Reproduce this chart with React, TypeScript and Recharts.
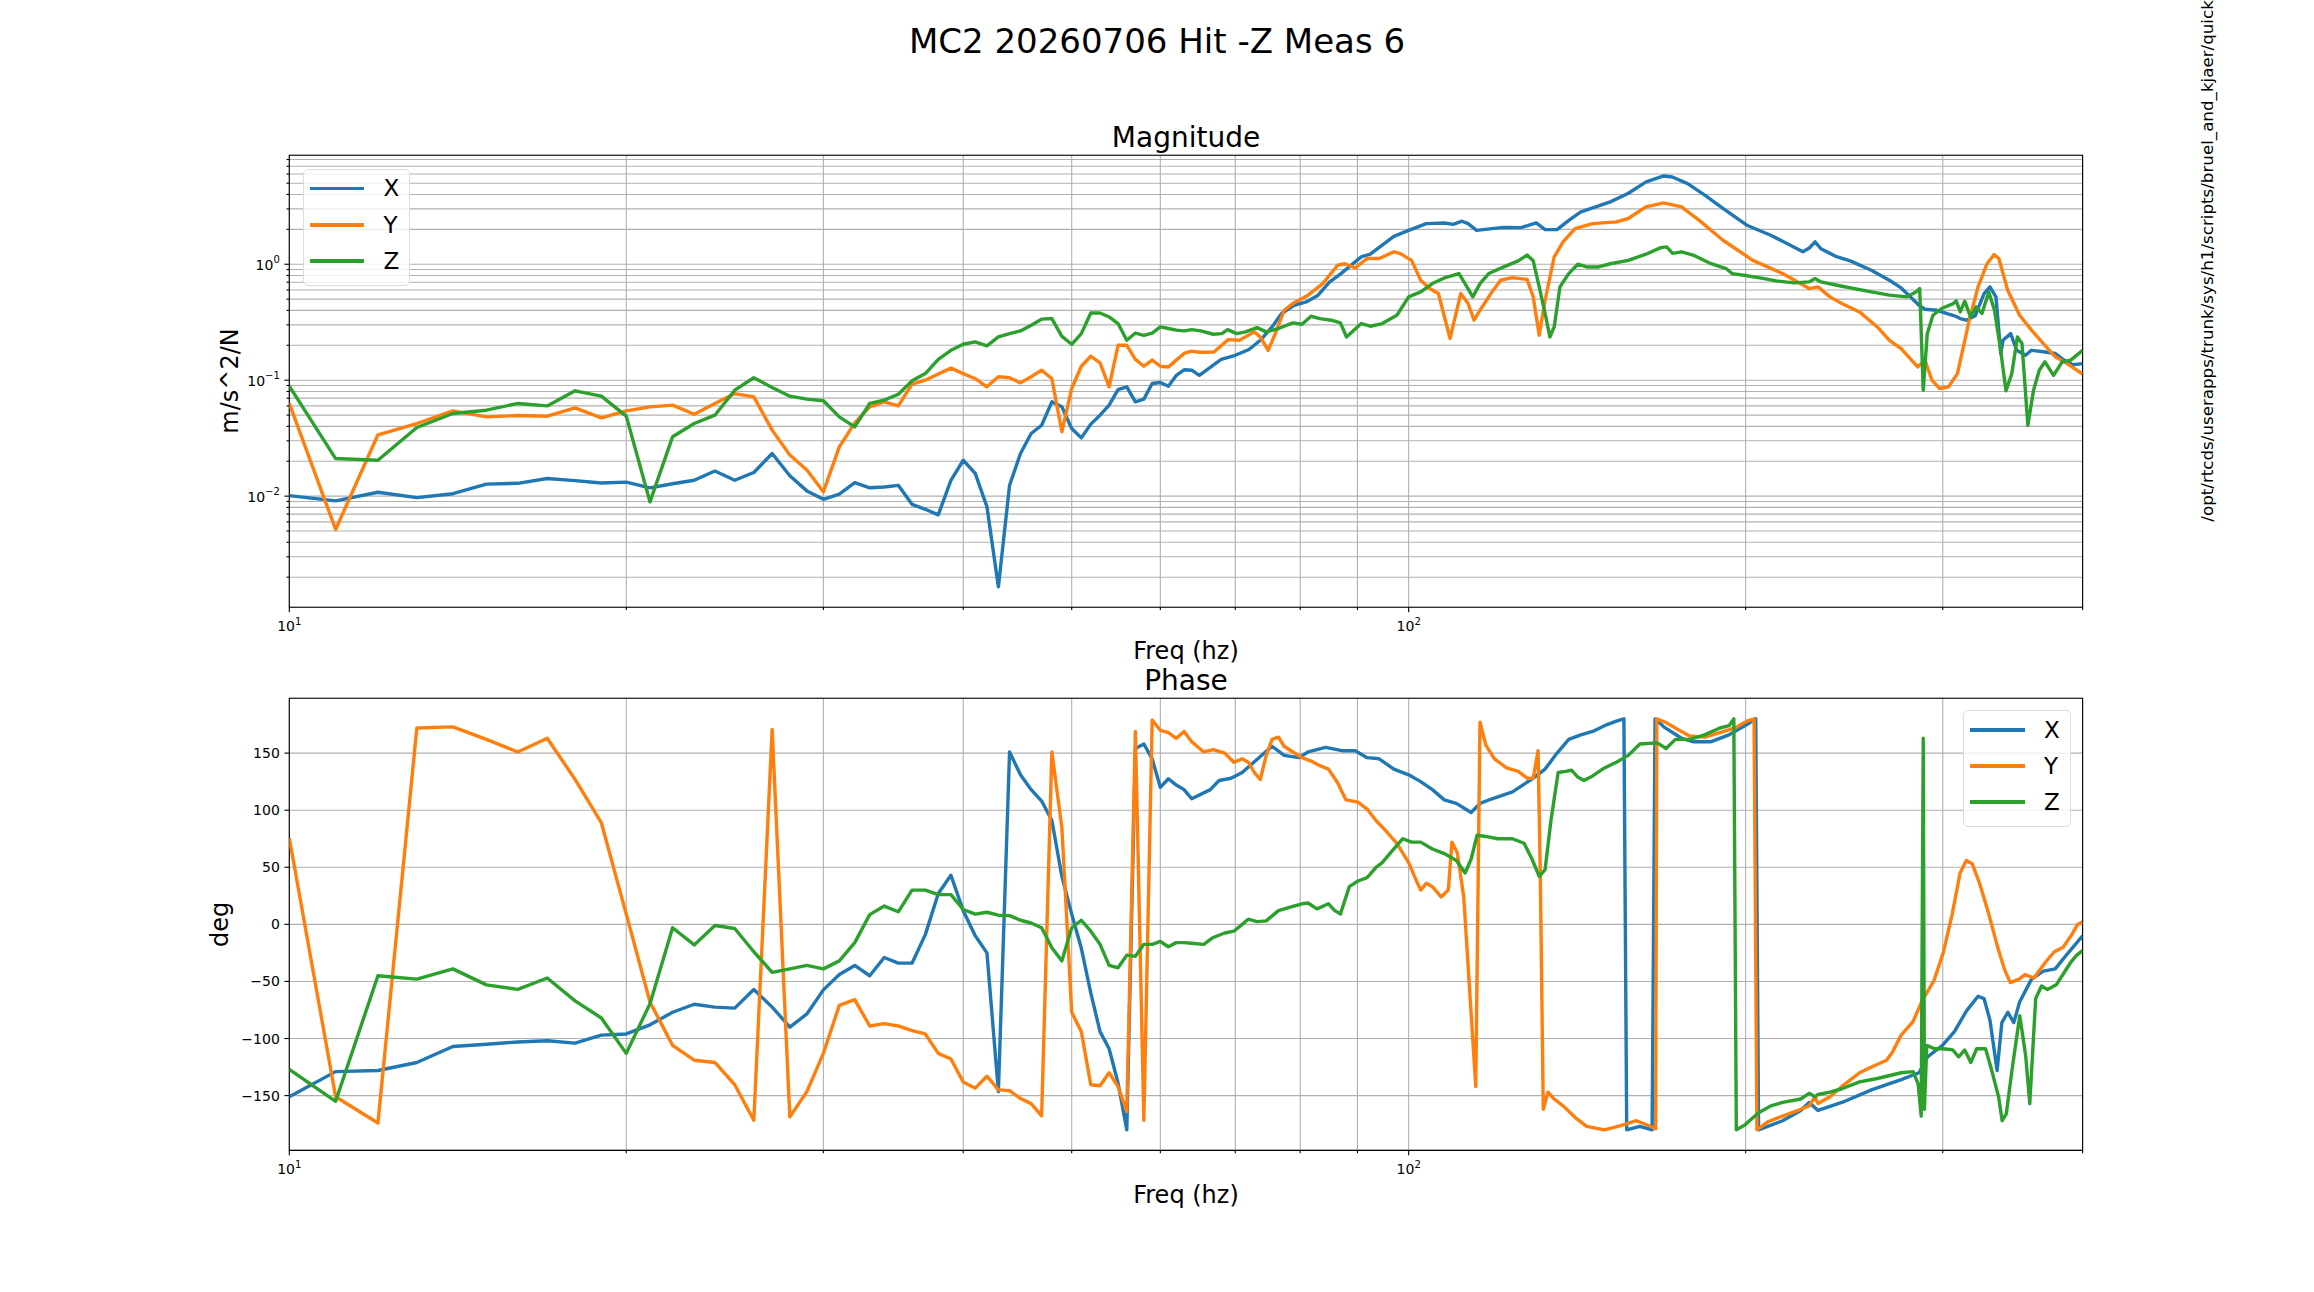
import { LineChart, Line, XAxis, YAxis, CartesianGrid, ReferenceArea } from "recharts";

const FONT = "DejaVu Sans, sans-serif";

const FREQ_MIN = 10;
const FREQ_MAX = 400;
const FREQ_TICKS = [10, 20, 30, 40, 50, 60, 70, 80, 90, 100, 200, 300, 400];

const MAG_MIN = 0.0011;
const MAG_MAX = 8.7;
const MAG_TICKS = [
  0.002, 0.003, 0.004, 0.005, 0.006, 0.007, 0.008, 0.009,
  0.01, 0.02, 0.03, 0.04, 0.05, 0.06, 0.07, 0.08, 0.09,
  0.1, 0.2, 0.3, 0.4, 0.5, 0.6, 0.7, 0.8, 0.9,
  1, 2, 3, 4, 5, 6, 7, 8,
];

const PHASE_MIN = -198;
const PHASE_MAX = 198;
const PHASE_TICKS = [-150, -100, -50, 0, 50, 100, 150];

// [freq hz, m/s^2/N]
const MAG_X: [number, number][] = [
  [10, 0.0101], [11, 0.0091], [12, 0.0108], [13, 0.0097], [14, 0.0105], [15, 0.0127], [16, 0.0129],
  [17, 0.0142], [18, 0.0136], [19, 0.013], [20, 0.0132], [21, 0.0118], [22, 0.0128], [23, 0.0137],
  [24, 0.0165], [25, 0.0137], [26, 0.016], [27, 0.0233], [28, 0.015], [29, 0.0111], [30, 0.0094],
  [31, 0.0104], [32, 0.0131], [33, 0.0118], [34, 0.012], [35, 0.0124], [36, 0.0085], [37, 0.0077],
  [38, 0.0069], [39, 0.0137], [40, 0.0204], [41, 0.0157], [42, 0.0081], [43, 0.00165], [44, 0.0124],
  [45, 0.0233], [46, 0.0347], [47, 0.0409], [48, 0.065], [49, 0.0589], [50, 0.0383], [51, 0.0318],
  [52, 0.0418], [53, 0.0499], [54, 0.0609], [55, 0.083], [56, 0.0877], [57, 0.065], [58, 0.0686],
  [59, 0.0936], [60, 0.0955], [61, 0.0888], [62, 0.11], [63, 0.123], [64, 0.122], [65, 0.11],
  [68, 0.151], [70, 0.164], [72, 0.184], [73.7, 0.221], [75.5, 0.288], [77, 0.376], [79, 0.443],
  [81, 0.473], [83, 0.541], [85, 0.705], [87, 0.831], [90.7, 1.157], [92.4, 1.22], [94.7, 1.46],
  [97, 1.74], [100, 1.96], [103.7, 2.24], [107.6, 2.27], [109.6, 2.21], [111.6, 2.35], [113, 2.24],
  [115, 1.96], [118.7, 2.03], [121.6, 2.08], [126, 2.07], [130, 2.27], [132.4, 1.99], [135.7, 1.99],
  [139, 2.39], [142.5, 2.83], [147.8, 3.18], [151.4, 3.45], [157, 4.07], [163, 5.13], [169, 5.77],
  [172, 5.66], [177.5, 4.96], [184, 3.93], [191, 3.02], [200.5, 2.17], [210.6, 1.78], [225, 1.28],
  [228, 1.38], [230.7, 1.56], [233.5, 1.36], [240.7, 1.17], [248, 1.07], [259, 0.888], [268.8, 0.728],
  [275.4, 0.625], [285.7, 0.443], [289.2, 0.409], [296.3, 0.401], [307.3, 0.359], [311, 0.34],
  [315, 0.329], [320.7, 0.359], [326.6, 0.559], [330.6, 0.638], [334.7, 0.523], [338, 0.17],
  [339.6, 0.221], [345, 0.252], [349.3, 0.181], [355.7, 0.164], [360, 0.181], [369, 0.176],
  [378, 0.17], [385, 0.149], [392, 0.136], [400, 0.139],
];

const MAG_Y: [number, number][] = [
  [10, 0.063], [11, 0.00516], [12, 0.0338], [13, 0.0423], [14, 0.0544], [15, 0.0483], [16, 0.0496],
  [17, 0.0489], [18, 0.0577], [19, 0.0473], [20, 0.0544], [21, 0.0589], [22, 0.0609], [23, 0.0509],
  [24, 0.063], [25, 0.0767], [26, 0.0718], [27, 0.0371], [28, 0.0226], [29, 0.0168], [30, 0.0109],
  [31, 0.0266], [32, 0.0429], [33, 0.0589], [34, 0.065], [35, 0.06], [36, 0.0924], [37, 0.1],
  [38, 0.113], [39, 0.127], [40, 0.114], [41, 0.103], [42, 0.0877], [43, 0.107], [44, 0.105],
  [45, 0.0948], [46, 0.107], [47, 0.122], [48, 0.103], [49, 0.0359], [50, 0.0848], [51, 0.132],
  [52, 0.161], [53, 0.141], [54, 0.0877], [55, 0.2], [56, 0.2], [57, 0.151], [58, 0.132], [59, 0.149],
  [60, 0.132], [61, 0.13], [62, 0.149], [63, 0.17], [64, 0.178], [65, 0.174], [67, 0.175], [69, 0.224],
  [70.6, 0.221], [72.8, 0.261], [73.7, 0.236], [74.9, 0.181], [76, 0.252], [77.4, 0.401], [78.8, 0.458],
  [81.3, 0.541], [83.8, 0.681], [86.4, 0.98], [87.7, 1.01], [89.6, 0.93], [91.8, 1.12], [94.1, 1.12],
  [97, 1.28], [98.2, 1.24], [100.6, 1.08], [102.5, 0.728], [104.4, 0.617], [106.3, 0.559],
  [108.9, 0.229], [111.3, 0.559], [113, 0.458], [114.4, 0.329], [115.8, 0.401], [118.7, 0.577],
  [120.8, 0.728], [123.8, 0.767], [127.6, 0.738], [129.2, 0.523], [130.8, 0.244], [132.4, 0.489],
  [134.9, 1.157], [137.4, 1.56], [140.8, 2.03], [146, 2.24], [153.3, 2.32], [157.1, 2.48],
  [162.9, 3.12], [169, 3.38], [175.3, 3.12], [181.8, 2.39], [190.9, 1.61], [203, 1.08], [215.8, 0.831],
  [227.9, 0.617], [232.1, 0.638], [237.9, 0.523], [243.8, 0.458], [252.8, 0.388], [262.2, 0.288],
  [268.8, 0.221], [275.4, 0.187], [284.9, 0.13], [289.2, 0.149], [293.4, 0.1], [298.1, 0.0848],
  [303.6, 0.0877], [309.2, 0.114], [313, 0.194], [316.8, 0.329], [322.6, 0.638], [328.6, 1.01],
  [333.4, 1.21], [336.7, 1.12], [342.9, 0.597], [351.4, 0.363], [360.1, 0.27], [369, 0.207],
  [378.1, 0.159], [387.5, 0.139], [400, 0.113],
];

const MAG_Z: [number, number][] = [
  [10, 0.0888], [11, 0.0211], [12, 0.0204], [13, 0.0391], [14, 0.0516], [15, 0.0551], [16, 0.063],
  [17, 0.06], [18, 0.081], [19, 0.0728], [20, 0.049], [21, 0.00893], [22, 0.0325], [23, 0.0423],
  [24, 0.0499], [25, 0.082], [26, 0.105], [27, 0.0865], [28, 0.0728], [29, 0.0686], [30, 0.0664],
  [31, 0.0483], [32, 0.0396], [33, 0.063], [34, 0.0673], [35, 0.0757], [36, 0.0987], [37, 0.114],
  [38, 0.151], [39, 0.181], [40, 0.204], [41, 0.214], [42, 0.198], [43, 0.236], [44, 0.252],
  [45, 0.266], [46, 0.298], [47, 0.336], [48, 0.34], [49, 0.239], [50, 0.204], [51, 0.252],
  [52, 0.38], [53, 0.38], [54, 0.351], [55, 0.308], [56, 0.221], [57, 0.255], [58, 0.244],
  [59, 0.255], [60, 0.288], [61, 0.279], [62, 0.27], [63, 0.266], [64, 0.273], [65.2, 0.266],
  [66.9, 0.249], [68.1, 0.252], [68.9, 0.273], [70.2, 0.252], [71.5, 0.261], [73.2, 0.284],
  [74.6, 0.261], [76.5, 0.279], [78.8, 0.312], [80.3, 0.304], [81.8, 0.356], [83.3, 0.34],
  [85.3, 0.329], [86.9, 0.312], [88, 0.236], [90.7, 0.308], [92.4, 0.292], [94.7, 0.308],
  [97.6, 0.363], [100, 0.523], [102.5, 0.577], [105, 0.681], [107.6, 0.762], [110.9, 0.831],
  [112.3, 0.681], [114.1, 0.523], [115.8, 0.681], [117.9, 0.831], [121.6, 0.948], [125.3, 1.07],
  [127.6, 1.2], [129.2, 1.07], [130.8, 0.638], [132.4, 0.376], [133.7, 0.236], [134.9, 0.288],
  [136.5, 0.638], [139, 0.831], [141.6, 1.0], [144.2, 0.948], [147.8, 0.948], [151.4, 1.01],
  [157.1, 1.08], [162.9, 1.22], [168, 1.39], [170, 1.41], [172.1, 1.24], [175.3, 1.28], [179.5, 1.2],
  [186.3, 1.01], [192.1, 0.918], [194.5, 0.831], [199.3, 0.804], [205.4, 0.767], [213, 0.718],
  [221, 0.69], [227.9, 0.704], [230.7, 0.752], [233.5, 0.704], [243.8, 0.646], [259.1, 0.577],
  [268.8, 0.541], [278.7, 0.523], [283.8, 0.577], [286.1, 0.617], [288.2, 0.082], [290.6, 0.252],
  [294, 0.363], [299.3, 0.415], [306.6, 0.458], [308.4, 0.483], [311, 0.388], [313.9, 0.48],
  [317.6, 0.351], [321.4, 0.429], [325.2, 0.376], [329.8, 0.577], [333.7, 0.401], [337.6, 0.194],
  [341.7, 0.081], [345.8, 0.114], [349.8, 0.236], [353.1, 0.207], [357.4, 0.0409], [361.6, 0.082],
  [365.9, 0.122], [370.2, 0.144], [376.8, 0.11], [383.5, 0.144], [390.4, 0.149], [400, 0.181],
];

// [freq hz, deg]
const PHASE_X: [number, number][] = [
  [10, -151], [11, -129], [12, -128], [13, -121], [14, -107], [15, -105], [16, -103], [17, -102],
  [18, -104], [19, -97], [20, -96], [21, -88], [22, -77], [23, -70], [24, -72.5], [25, -73.4],
  [26, -57], [27, -72.5], [28, -90], [29, -78.5], [30, -57.4], [31, -44], [32, -36], [33, -45],
  [34, -29], [35, -34], [36, -34], [37, -9], [38, 27], [39, 43], [40, 12], [41, -10], [42, -25],
  [43, -146.5], [44, 151], [45, 131], [46, 118], [47, 108], [48, 91], [49, 42], [50, 9], [51, -21],
  [52, -60], [53, -94], [54, -109], [55, -139], [56, -180], [57, 154], [58, 158], [59, 145],
  [60, 120], [61, 127.5], [62, 122], [63, 118], [64, 110], [66.5, 118], [67.7, 126], [69.4, 128],
  [71, 133], [73.7, 147], [75.5, 156], [77.4, 148], [79.8, 146], [81.3, 151], [84.3, 155],
  [87.4, 152], [89.6, 152], [91.8, 146], [94.1, 145], [97, 136], [100, 131], [102.5, 125],
  [105, 118], [107.6, 109], [110.3, 106], [113.7, 98], [115.8, 106], [118.7, 110], [123.8, 116],
  [129.2, 128], [132.4, 136], [135.7, 150], [139, 162], [142.5, 166], [146, 169], [149.6, 174],
  [153.3, 178], [155.7, 180], [156.6, -180], [160.9, -177], [165, -180], [166, 180], [169, 173],
  [175.3, 163], [179.5, 160], [186.3, 160], [193.3, 166], [200.5, 175], [204.2, 180], [205.4, -180],
  [215.8, -172], [224, -163], [227.9, -156], [232.1, -163], [243.8, -156], [259.1, -145],
  [275.4, -136], [285.7, -130], [290.9, -116], [299.8, -106], [307.3, -94], [314.9, -76],
  [322.6, -63], [326.6, -65], [330.6, -84], [335.5, -128], [338.8, -86], [343, -77], [347.2, -86],
  [351.4, -68], [360.1, -48], [369, -41], [378.1, -39], [387.5, -26], [400, -10],
];

const PHASE_Y: [number, number][] = [
  [10, 75.5], [11, -151], [12, -174], [13, 172], [14, 173], [15, 162], [16, 151], [17, 163],
  [18, 127], [19, 89], [20, 9], [21, -68], [22, -106], [23, -119], [24, -121], [25, -140.5],
  [26, -171.6], [27, 170.7], [28, -168.6], [29, -146.5], [30, -113], [31, -71], [32, -66], [33, -89],
  [34, -87], [35, -89], [36, -93], [37, -96], [38, -113], [39, -118], [40, -138], [41, -143.5],
  [42, -133], [43, -145], [44, -145.6], [45, -152.6], [46, -157], [47, -167.7], [48, 151], [49, 84.6],
  [50, -77], [51, -94], [52, -140.5], [53, -141.4], [54, -130], [55, -142], [56, -164], [57, 169],
  [58, -171.6], [59, 179], [60, 170], [61, 168], [62, 163], [63, 169], [64, 160], [65.6, 151],
  [66.9, 153], [68.5, 150], [69.8, 142], [71, 145], [71.9, 142], [72.8, 133], [73.7, 127],
  [74.6, 148], [75.5, 162], [76.5, 164], [77.4, 156], [78.8, 151], [80.3, 146], [81.8, 143],
  [83.3, 139], [84.8, 136], [86.4, 124], [87.9, 109], [90.1, 107], [91.8, 101], [93.5, 91],
  [95.2, 83], [97.6, 71], [100, 54], [101.2, 42], [102.5, 30], [103.7, 36], [105, 33], [106.9, 24],
  [108.5, 30], [109.3, 72], [110.5, 63], [112, 24], [113.4, -60], [114.8, -142], [115.8, 177],
  [117.2, 157], [119.3, 145], [122.3, 137], [125.3, 134], [127.6, 128], [129.2, 128], [130.5, 152],
  [131.1, 42], [131.9, -162], [133.2, -147], [134.9, -153], [137.4, -159], [140.8, -169],
  [144.2, -177], [149.6, -180], [155, -176], [159.7, -172], [163.6, -176], [166.2, -179],
  [166.6, 180], [169.6, 177], [173.8, 171], [178.2, 165], [183.8, 164], [189.7, 168], [195.7, 172],
  [200.5, 178], [203.5, 180], [204.7, -180], [209.3, -173], [215.8, -168], [224, -162],
  [227.9, -159], [230.7, -151], [232.1, -157], [237.9, -151], [243.8, -142], [252.8, -130],
  [259.1, -125], [267.2, -119], [270.5, -112], [275.4, -97], [282.3, -85], [287.5, -67],
  [294.7, -49], [300.3, -25], [305.9, 9], [310.9, 45], [314.9, 56], [318.8, 53], [323.6, 36],
  [329.8, 9], [336.1, -21], [340.5, -39], [344.7, -51], [351, -48], [355.3, -44], [361.9, -47],
  [370.7, -33], [377.4, -24], [384.3, -20], [391.2, -9], [395.9, 0], [400, 2],
];

const PHASE_Z: [number, number][] = [
  [10, -127], [11, -155], [12, -45], [13, -48], [14, -39], [15, -53], [16, -57], [17, -47],
  [18, -67], [19, -82], [20, -113], [21, -69.5], [22, -3], [23, -18], [24, -1], [25, -3.6],
  [26, -24], [27, -42], [28, -39], [29, -36], [30, -39], [31, -32], [32, -16], [33, 8.5], [34, 16],
  [35, 11], [36, 30], [37, 30], [38, 26], [39, 26], [40, 13], [41, 9], [42, 10.6], [43, 8],
  [44, 7.6], [45, 3.6], [46, 1.2], [47, -3], [48, -20.5], [49, -32], [50, -3], [51, 3.6], [52, -6],
  [53, -17.5], [54, -36], [55, -38], [56, -27], [57, -28], [58, -17.5], [59, -17.5], [60, -15],
  [61, -19.6], [62, -16], [63, -16], [64, -16.6], [65.6, -17.5], [66.9, -11.5], [68.5, -7.6],
  [69.8, -6], [71, 0], [71.9, 4.5], [73.2, 2.4], [74.6, 3], [76.5, 12], [78.8, 15.7], [80.3, 18],
  [81.3, 18.7], [82.8, 13.6], [84.8, 18], [85.9, 12], [86.9, 9], [88.5, 33], [90.1, 38],
  [91.8, 41], [93.5, 50], [94.7, 54], [96.4, 63], [98.8, 75], [100.6, 72], [102.5, 72], [105, 66],
  [107.6, 62], [110.3, 56], [112.3, 45], [113.7, 57], [115.1, 78], [117.2, 77], [120.1, 75],
  [123.8, 75], [126.8, 71], [128.9, 57], [130.8, 42], [132.4, 48], [134, 91], [136, 133],
  [138.1, 134], [139.8, 135], [141.6, 129], [143.4, 126], [146, 130], [149.6, 137], [153.3, 142],
  [157.1, 148], [160.9, 158], [166.8, 159], [169.8, 154], [173.1, 162], [178.4, 162], [183.8, 166],
  [189.7, 172], [193.3, 174], [195.2, 180], [196.2, -180], [199.5, -176], [205.4, -165],
  [210.6, -159], [215.8, -156], [224, -153], [227.9, -148], [230.7, -151], [232.1, -149],
  [237.9, -147], [243.8, -144], [252.8, -138], [262.2, -135], [275.4, -130], [282.3, -129],
  [285.2, -140], [287, -168], [288.2, 163], [288.9, -162], [290.3, -106], [295, -109],
  [300.5, -109], [306.2, -110], [310, -116], [313.9, -110], [317.8, -121], [321.7, -109],
  [327.6, -109], [331.6, -127], [336.5, -151], [339, -172], [341.9, -166], [346, -127],
  [351.5, -80], [355.8, -115], [358.8, -157], [363.2, -65], [367.6, -54], [372.1, -57],
  [378.9, -53], [383.5, -45], [390.5, -33], [395.2, -27], [400, -23],
];

const SERIES = [
  { name: "X", color: "#1f77b4", mag: MAG_X, phase: PHASE_X },
  { name: "Y", color: "#ff7f0e", mag: MAG_Y, phase: PHASE_Y },
  { name: "Z", color: "#2ca02c", mag: MAG_Z, phase: PHASE_Z },
];

const pts = (a: [number, number][]) => a.map(([f, v]) => ({ f, v }));

const isDecade = (v: number) => {
  const e = Math.log10(v);
  return Math.abs(e - Math.round(e)) < 1e-6;
};
const minus = (n: number) => (n < 0 ? "\u2212" + Math.abs(n) : String(n));

const MAJOR_LEN = 4.9;
const MINOR_LEN = 2.8;
const AXIS_W = 1.1;

function LogXTick({ x, y, payload }: any) {
  const major = isDecade(payload.value);
  return (
    <g>
      <line x1={x} x2={x} y1={y} y2={y + (major ? MAJOR_LEN : MINOR_LEN)} stroke="#000" strokeWidth={AXIS_W} />
      {major && (
        <text x={x} y={y + 24} textAnchor="middle" fontSize={14} fontFamily={FONT} fill="#000">
          10<tspan dy={-6} fontSize={10}>{minus(Math.round(Math.log10(payload.value)))}</tspan>
        </text>
      )}
    </g>
  );
}

function LogYTick({ x, y, payload }: any) {
  const major = isDecade(payload.value);
  return (
    <g>
      <line x1={x} x2={x - (major ? MAJOR_LEN : MINOR_LEN)} y1={y} y2={y} stroke="#000" strokeWidth={AXIS_W} />
      {major && (
        <text x={x - 9.5} y={y + 6} textAnchor="end" fontSize={14} fontFamily={FONT} fill="#000">
          10<tspan dy={-7} fontSize={10}>{minus(Math.round(Math.log10(payload.value)))}</tspan>
        </text>
      )}
    </g>
  );
}

function LinYTick({ x, y, payload }: any) {
  return (
    <g>
      <line x1={x} x2={x - MAJOR_LEN} y1={y} y2={y} stroke="#000" strokeWidth={AXIS_W} />
      <text x={x - 9.5} y={y + 5} textAnchor="end" fontSize={14} fontFamily={FONT} fill="#000">
        {minus(payload.value)}
      </text>
    </g>
  );
}

function FigLegend({ left, top }: { left: number; top: number }) {
  const rowH = 36.3;
  return (
    <div
      style={{
        position: "absolute", left, top, width: 107.4, height: 117.3,
        boxSizing: "border-box", border: "1.3px solid #dcdcdc", borderRadius: 5,
        background: "rgba(255,255,255,0.8)", paddingTop: 0.6,
      }}
    >
      {SERIES.map((s) => (
        <div key={s.name} style={{ display: "flex", alignItems: "center", height: rowH }}>
          <div style={{ marginLeft: 6.1, width: 54.3, height: 3.7, background: s.color }} />
          <span style={{ marginLeft: 19.3, fontSize: 23, fontFamily: FONT, lineHeight: rowH + "px", color: "#000" }}>
            {s.name}
          </span>
        </div>
      ))}
    </div>
  );
}

export default function App() {
  const xAxis = (
    <XAxis
      dataKey="f" type="number" scale="log" domain={[FREQ_MIN, FREQ_MAX]} allowDataOverflow
      ticks={FREQ_TICKS} interval={0} tick={(p: any) => <LogXTick {...p} />}
      tickLine={false} axisLine={false} tickSize={0} tickMargin={0} height={40}
    />
  );

  return (
    <div style={{ position: "absolute", left: 0, top: 0, width: 2314, height: 1292, background: "#fff", overflow: "hidden" }}>
      <div style={{ position: "absolute", left: 0, top: 0 }}>
        <LineChart width={2314} height={660} margin={{ top: 155.3, right: 231.4, left: 209.3, bottom: 12.7 }}>
          <CartesianGrid stroke="#b0b0b0" strokeWidth={1.1} />
          {xAxis}
          <YAxis
            type="number" scale="log" domain={[MAG_MIN, MAG_MAX]} allowDataOverflow
            ticks={MAG_TICKS} interval={0} tick={(p: any) => <LogYTick {...p} />}
            tickLine={false} axisLine={false} tickSize={0} tickMargin={0} width={80}
          />
          {SERIES.map((s) => (
            <Line
              key={s.name} data={pts(s.mag)} dataKey="v" name={s.name} stroke={s.color}
              strokeWidth={3.4} strokeLinejoin="round" dot={false} activeDot={false} isAnimationActive={false}
            />
          ))}
          <ReferenceArea x1={FREQ_MIN} x2={FREQ_MAX} y1={MAG_MIN} y2={MAG_MAX} fill="none" stroke="#000" strokeWidth={AXIS_W} />
        </LineChart>
      </div>

      <div style={{ position: "absolute", left: 0, top: 660 }}>
        <LineChart width={2314} height={632} margin={{ top: 38.3, right: 231.4, left: 209.3, bottom: 101.6 }}>
          <CartesianGrid stroke="#b0b0b0" strokeWidth={1.1} />
          {xAxis}
          <YAxis
            type="number" domain={[PHASE_MIN, PHASE_MAX]} allowDataOverflow
            ticks={PHASE_TICKS} interval={0} tick={(p: any) => <LinYTick {...p} />}
            tickLine={false} axisLine={false} tickSize={0} tickMargin={0} width={80}
          />
          {SERIES.map((s) => (
            <Line
              key={s.name} data={pts(s.phase)} dataKey="v" name={s.name} stroke={s.color}
              strokeWidth={3.4} strokeLinejoin="round" dot={false} activeDot={false} isAnimationActive={false}
            />
          ))}
          <ReferenceArea x1={FREQ_MIN} x2={FREQ_MAX} y1={PHASE_MIN} y2={PHASE_MAX} fill="none" stroke="#000" strokeWidth={AXIS_W} />
        </LineChart>
      </div>

      <svg width={2314} height={1292} style={{ position: "absolute", left: 0, top: 0, pointerEvents: "none" }} fontFamily={FONT}>
        <text x={1157} y={53.3} textAnchor="middle" fontSize={34}>MC2 20260706 Hit -Z Meas 6</text>
        <text x={1186} y={146.7} textAnchor="middle" fontSize={28}>Magnitude</text>
        <text x={1186} y={690} textAnchor="middle" fontSize={28}>Phase</text>
        <text x={1186} y={659} textAnchor="middle" fontSize={24}>Freq (hz)</text>
        <text x={1186} y={1203} textAnchor="middle" fontSize={24}>Freq (hz)</text>
        <text transform="translate(238,381) rotate(-90)" textAnchor="middle" fontSize={24}>m/s^2/N</text>
        <text transform="translate(227.6,924.3) rotate(-90)" textAnchor="middle" fontSize={24}>deg</text>
        <text transform="translate(2213.4,521.7) rotate(-90)" fontSize={16.7}>
          /opt/rtcds/userapps/trunk/sys/h1/scripts/bruel_and_kjaer/quick
        </text>
      </svg>

      <FigLegend left={302.7} top={168.7} />
      <FigLegend left={1963.3} top={710} />
    </div>
  );
}
